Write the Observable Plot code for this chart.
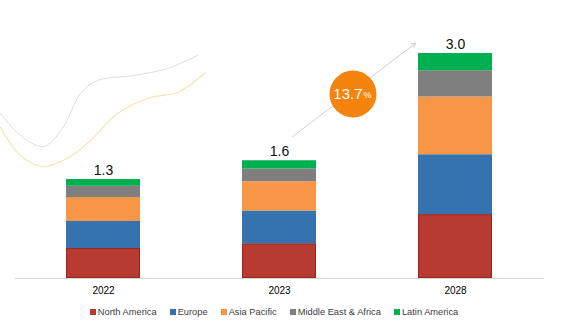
<!DOCTYPE html>
<html><head><meta charset="utf-8">
<script src="https://cdn.jsdelivr.net/npm/d3@7"></script>
<script src="https://cdn.jsdelivr.net/npm/@observablehq/plot@0.6"></script>
<style>
body{margin:0;background:#fff;}
#wrap{position:relative;width:561px;height:335px;overflow:hidden;background:#fff;}
#decor{position:absolute;left:0;top:0;}
#chart{position:absolute;left:0;top:0;width:561px;}
div.lg-swatches{justify-content:center !important;min-height:14px !important;margin:5px 0 0 0 !important;font-size:9.3px !important;font-family:"Liberation Sans",Arial,sans-serif !important;color:#404040 !important;}
div.lg-swatches .lg-swatch{margin-right:13px !important;}
div.lg-swatches .lg-swatch > svg{margin-right:2px !important;}
</style></head><body>
<div id="wrap"><div id="decor"></div><div id="chart"></div></div>
<script>
// ---- data ----
const years = ["2022", "2023", "2028"];
const regions = ["North America", "Europe", "Asia Pacific", "Middle East & Africa", "Latin America"];
const northAmerica = [0.40, 0.46, 0.85];
const europe = [0.36, 0.44, 0.80];
const asiaPacific = [0.32, 0.39, 0.77];
const middleEastAfrica = [0.15, 0.17, 0.35];
const latinAmerica = [0.09, 0.11, 0.23];
const totalLabels = ["1.3", "1.6", "3.0"];
const cagrLabel = "13.7";
const cagrUnit = "%";
// decorative swooshes (background)
const swooshGrayX = [0, 20, 43, 62, 80, 97, 133, 167, 197];
const swooshGrayY = [113, 135, 146, 128, 93, 80, 75, 68, 55];
const swooshYellowX = [0, 20, 43, 70, 90, 117, 150, 177, 205];
const swooshYellowY = [127, 155, 166, 156, 140, 113, 97, 92, 72];

const colors = ["#b83b32", "#3572b0", "#f79646", "#7f7f7f", "#00b050"];
const series = [northAmerica, europe, asiaPacific, middleEastAfrica, latinAmerica];

const data = [];
years.forEach((year, i) => regions.forEach((region, j) => data.push({year, region, value: series[j][i]})));
const totals = years.map((year, i) => ({year, total: d3.sum(series, s => s[i]), label: totalLabels[i]}));

// ---- background decoration ----
const decor = Plot.plot({
  width: 561, height: 300, margin: 0,
  x: {domain: [0, 561], axis: null},
  y: {domain: [300, 0], axis: null},
  marks: [
    Plot.line(swooshGrayX.map((x, i) => ({x, y: swooshGrayY[i]})), {x: "x", y: "y", curve: "catmull-rom", stroke: "#dcdce6", strokeWidth: 1}),
    Plot.line(swooshYellowX.map((x, i) => ({x, y: swooshYellowY[i]})), {x: "x", y: "y", curve: "catmull-rom", stroke: "#f1e7b0", strokeWidth: 1.2})
  ]
});
decor.style.background = "transparent";
document.getElementById("decor").append(decor);

// ---- chart ----
const chart = Plot.plot({
  width: 561, height: 300,
  marginLeft: 14, marginRight: 17, marginTop: 53, marginBottom: 22,
  style: {background: "transparent", fontFamily: "'Liberation Sans', Arial, sans-serif"},
  x: {domain: years, paddingInner: 0.58, paddingOuter: 0.29, label: null, tickSize: 0, tickPadding: 8},
  y: {domain: [0, 3], axis: null},
  color: {domain: regions, range: colors},
  marks: [
    Plot.ruleY([0], {stroke: "#d9d9d9"}),
    Plot.barY(data, {x: "year", y: "value", fill: "region"}),
    Plot.barY(data.filter(d => d.region === regions[0]), {x: "year", y: "value", fill: "none", stroke: "#9a2720", strokeWidth: 1, inset: 0.5}),
    Plot.text(totals, {x: "year", y: "total", text: "label", lineAnchor: "bottom", dy: -5, fontSize: 14, fill: "#111"}),
    Plot.arrow([{x1: "2023", y1: 1.76, x2: "2028", y2: 3.54}], {x1: "x1", y1: "y1", x2: "x2", y2: "y2", stroke: "#d0d0d0", strokeWidth: 1, headLength: 7, insetStart: 16, insetEnd: 50}),
    Plot.dot([{x: "2023", y: 2.46}], {x: "x", y: "y", r: 23.5, fill: "#f5840f", dx: 73.5}),
    Plot.text([{x: "2023", y: 2.46}], {x: "x", y: "y", text: () => cagrLabel, textAnchor: "end", dx: 83, fontSize: 15, fill: "white"}),
    Plot.text([{x: "2023", y: 2.46}], {x: "x", y: "y", text: () => cagrUnit, textAnchor: "start", dx: 84, dy: 1.5, fontSize: 9, fill: "white"})
  ]
});
const el = document.getElementById("chart");
el.append(chart);
const legend = chart.legend("color", {swatchSize: 6, className: "lg"});
el.append(legend);
</script>
</body></html>
